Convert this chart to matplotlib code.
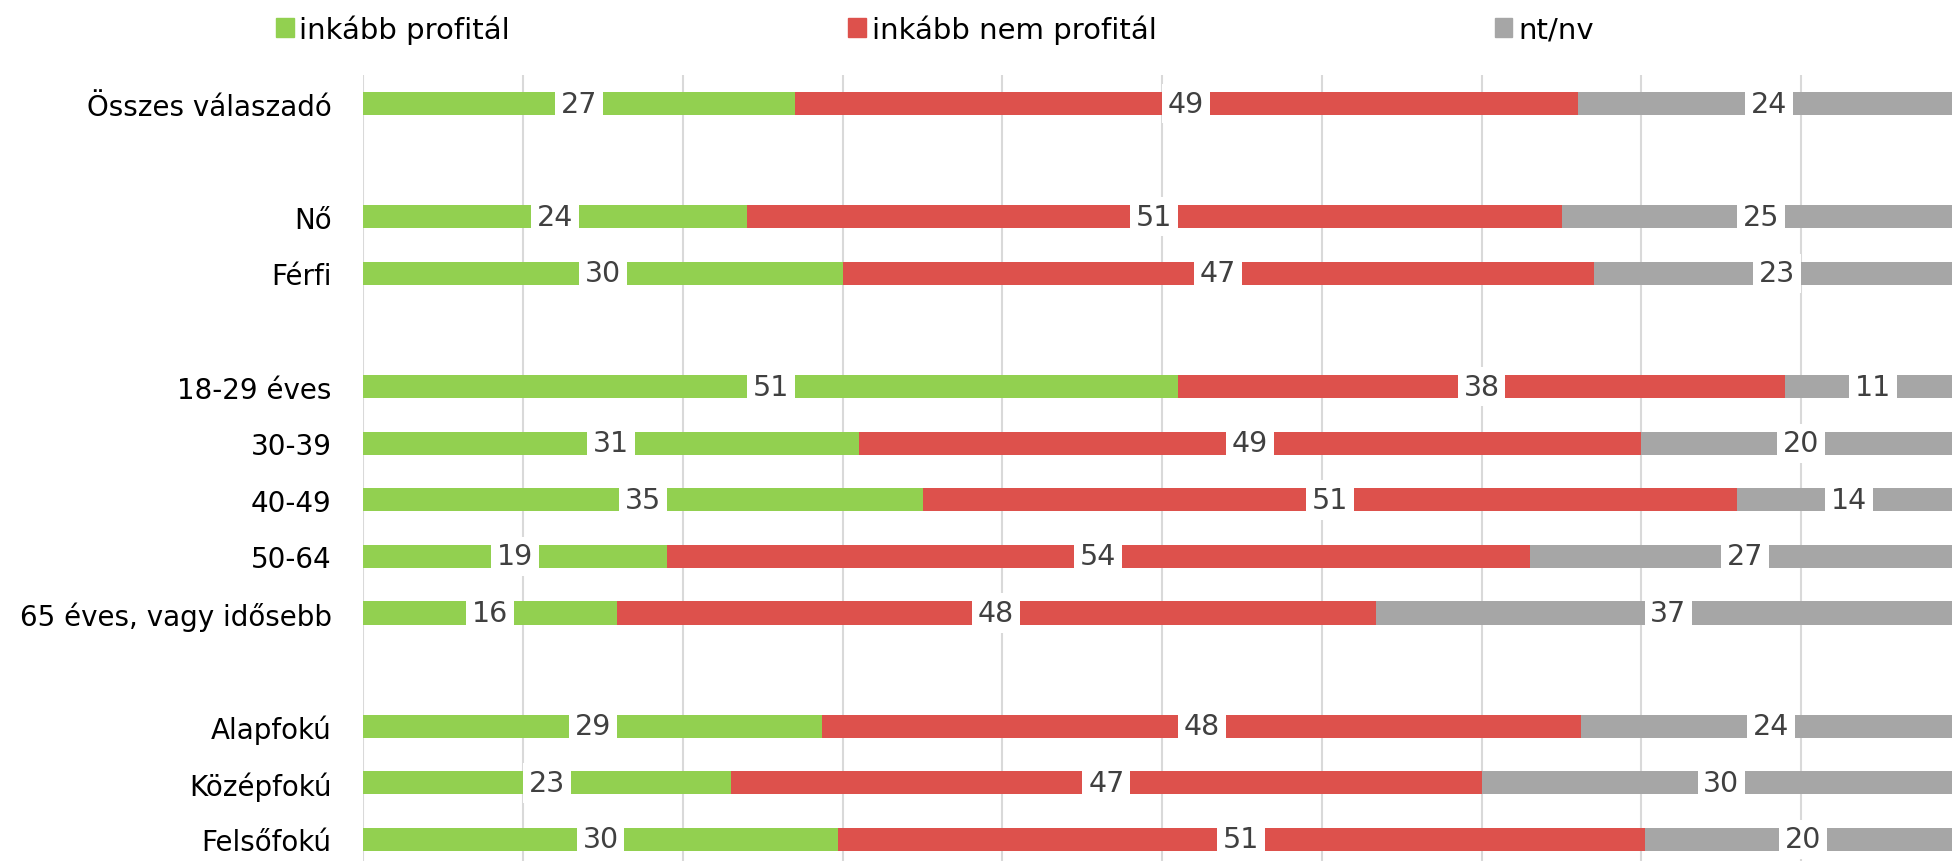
import numpy as np
import matplotlib.pyplot as plt
from matplotlib.patches import Patch

# survey data (counts as shown, rows get normalised to 100%)
categories = ["Összes válaszadó", "Nő", "Férfi", "18-29 éves", "30-39", "40-49",
              "50-64", "65 éves, vagy idősebb", "Alapfokú", "Középfokú", "Felsőfokú"]
groups = [0, 1, 1, 2, 2, 2, 2, 2, 3, 3, 3]
profital = [27, 24, 30, 51, 31, 35, 19, 16, 29, 23, 30]
nem_profital = [49, 51, 47, 38, 49, 51, 54, 48, 48, 47, 51]
ntnv = [24, 25, 23, 11, 20, 14, 27, 37, 24, 30, 20]
series_names = ["inkább profitál", "inkább nem profitál", "nt/nv"]
colors = ["#92D050", "#DD514C", "#A6A6A6"]

plt.rcParams['font.family'] = ['DejaVu Sans']

fig = plt.figure(figsize=(19.52, 8.62), dpi=100)
ax = fig.add_axes([0.1862, -0.0078, 0.8184, 0.9193])

data = np.array([profital, nem_profital, ntnv], dtype=float)
shares = data / data.sum(axis=0) * 100
y = np.arange(len(categories)) + np.array(groups)
left = np.zeros(len(categories))
for vals, sh, name, c in zip(data, shares, series_names, colors):
    ax.barh(y, sh, left=left, height=0.41, color=c, label=name, zorder=2)
    for yi, l, s, v in zip(y, left, sh, vals):
        ax.text(l + s / 2, yi, f"{v:.0f}", ha='center', va='center', fontsize=20.5,
                color='#404040', zorder=3,
                bbox=dict(boxstyle='square,pad=0.2', fc='white', ec='none'))
    left += sh

ax.set_xlim(0, 100)
ax.set_ylim(13.5, -0.5)
ax.set_xticks(np.arange(0, 101, 10))
ax.tick_params(axis='x', length=0, labelbottom=False)
ax.grid(axis='x', color='#D9D9D9', lw=1.5, zorder=0)
ax.set_axisbelow(True)
ax.set_yticks(y, categories)
ax.tick_params(axis='y', length=0, pad=23, labelsize=20)
for s in ax.spines.values():
    s.set_visible(False)

handles = [Patch(color=c) for c in colors]
fig.legend(handles, series_names, loc='center left', bbox_to_anchor=(276 / 1952, 1 - 30 / 862),
           ncol=3, frameon=False, fontsize=21, handlelength=0.6, handleheight=0.6,
           handletextpad=0.2, columnspacing=11.6, borderpad=0, borderaxespad=0)

fig.savefig('out.png', dpi=100)
